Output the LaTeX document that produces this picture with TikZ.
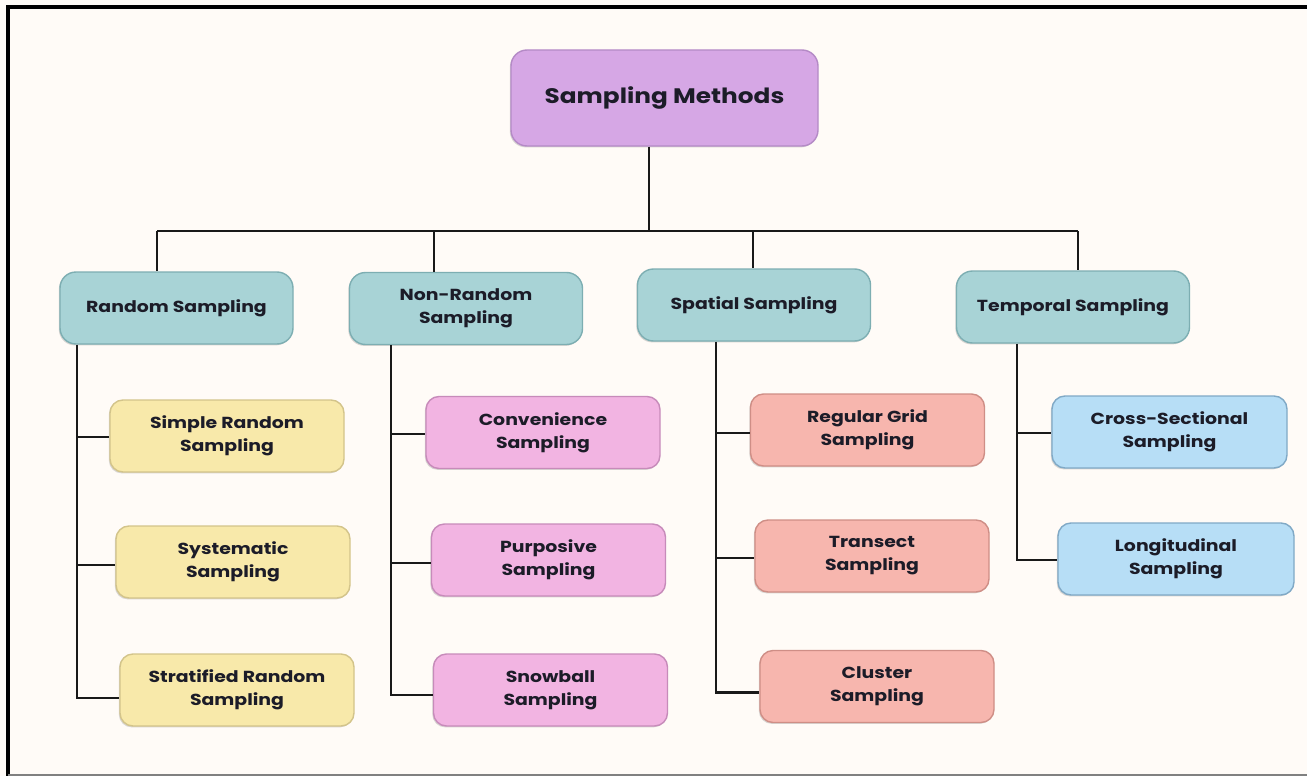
\documentclass[tikz,border=0pt]{standalone}
\usepackage{fontspec}
\setmainfont{Poppins}[FakeStretch=1.18]
\usetikzlibrary{shadows}
\definecolor{pagebg}{HTML}{FFFBF7}
\definecolor{txt}{HTML}{1C1C28}
\definecolor{rootfill}{HTML}{D6A7E5}\definecolor{rootline}{HTML}{B48AC6}
\definecolor{catfill}{HTML}{A8D3D6}\definecolor{catline}{HTML}{7DAEB2}
\definecolor{yelfill}{HTML}{F8E9AA}\definecolor{yelline}{HTML}{D3C48A}
\definecolor{pinkfill}{HTML}{F2B4E2}\definecolor{pinkline}{HTML}{C78BBA}
\definecolor{salfill}{HTML}{F7B6AE}\definecolor{salline}{HTML}{CF8E86}
\definecolor{bluefill}{HTML}{B7DEF6}\definecolor{blueline}{HTML}{80A9C6}
\tikzset{
  box/.style={rectangle, rounded corners=13pt, line width=1.4pt, align=center,
    text=txt, font=\bfseries, inner sep=0pt,
    drop shadow={shadow xshift=-1.2pt, shadow yshift=-1.4pt, opacity=.25, fill=black!60}},
  rootbox/.style={box, fill=rootfill, draw=rootline, minimum width=307pt, minimum height=96pt,
    rounded corners=16pt, font=\fontsize{21}{25}\selectfont\bfseries},
  catbox/.style={box, fill=catfill, draw=catline, minimum width=233pt, minimum height=72pt,
    rounded corners=16pt, font=\fontsize{16}{23}\selectfont\bfseries},
  leaf/.style={box, minimum width=234pt, minimum height=72pt,
    font=\fontsize{16}{23}\selectfont\bfseries},
  yel/.style={leaf, fill=yelfill, draw=yelline},
  pnk/.style={leaf, fill=pinkfill, draw=pinkline},
  sal/.style={leaf, fill=salfill, draw=salline},
  blu/.style={leaf, fill=bluefill, draw=blueline},
  link/.style={line width=2.4pt, draw=black!90},
}
\begin{document}
\begin{tikzpicture}[x=1pt, y=-1pt]
  % page and frame
  \fill[pagebg] (0,0) rectangle (1307,776);
  \useasboundingbox (0,0) rectangle (1307,776);
  \draw[line width=4pt] (8,776) -- (8,7) -- (1307,7);
  \draw[line width=1.6pt, gray] (8,775.2) -- (1307,775.2);

  % root and categories
  \node[rootbox] (root) at (664.5,98) {Sampling Methods};
  \node[catbox] (rnd) at (176.5,308) {Random Sampling};
  \node[catbox] (nrd) at (466,308.5) {Non-Random\\Sampling};
  \node[catbox] (spa) at (754,305) {Spatial Sampling};
  \node[catbox] (tmp) at (1073,307) {Temporal Sampling};

  % leaves
  \node[yel] (l11) at (227,436) {Simple Random\\Sampling};
  \node[yel] (l12) at (233,562) {Systematic\\Sampling};
  \node[yel] (l13) at (237,690) {Stratified Random\\Sampling};
  \node[pnk] (l21) at (543,432.5) {Convenience\\Sampling};
  \node[pnk] (l22) at (548.5,560) {Purposive\\Sampling};
  \node[pnk] (l23) at (550.5,690) {Snowball\\Sampling};
  \node[sal] (l31) at (867.5,430) {Regular Grid\\Sampling};
  \node[sal] (l32) at (872,556) {Transect\\Sampling};
  \node[sal] (l33) at (877,686.5) {Cluster\\Sampling};
  \node[blu, minimum width=235pt] (l41) at (1169.5,432) {Cross-Sectional\\Sampling};
  \node[blu, minimum width=236pt] (l42) at (1176,559) {Longitudinal\\Sampling};

  % bus junctions
  \coordinate (j0) at (649,231);
  \coordinate (j1) at (157,231);
  \coordinate (j2) at (434,231);
  \coordinate (j3) at (753,231);
  \coordinate (j4) at (1078,231);
  \draw[link] (root.south -| j0) -- (j0);
  \draw[link] (j1) -- (j4);
  \draw[link] (j1) -- (rnd.north -| j1);
  \draw[link] (j2) -- (nrd.north -| j2);
  \draw[link] (j3) -- (spa.north -| j3);
  \draw[link] (j4) -- (tmp.north -| j4);

  % spines
  \coordinate (s1) at (77,0);
  \coordinate (s2) at (391,0);
  \coordinate (s3) at (716,0);
  \coordinate (s4) at (1017,0);

  \draw[link] (rnd.south -| s1) -- ([yshift=-8pt]l13.west -| s1) -- ([yshift=-8pt]l13.west);
  \draw[link] ([yshift=-1pt]l11.west -| s1) -- ([yshift=-1pt]l11.west);
  \draw[link] ([yshift=-3pt]l12.west -| s1) -- ([yshift=-3pt]l12.west);

  \draw[link] (nrd.south -| s2) -- ([yshift=-5pt]l23.west -| s2) -- ([yshift=-5pt]l23.west);
  \draw[link] ([yshift=-1.5pt]l21.west -| s2) -- ([yshift=-1.5pt]l21.west);
  \draw[link] ([yshift=-3pt]l22.west -| s2) -- ([yshift=-3pt]l22.west);

  \draw[link] (spa.south -| s3) -- ([yshift=-6pt]l33.west -| s3) -- ([yshift=-6pt]l33.west);
  \draw[link] ([yshift=-3pt]l31.west -| s3) -- ([yshift=-3pt]l31.west);
  \draw[link] ([yshift=-2pt]l32.west -| s3) -- ([yshift=-2pt]l32.west);

  \draw[link] (tmp.south -| s4) -- ([yshift=-1pt]l42.west -| s4) -- ([yshift=-1pt]l42.west);
  \draw[link] ([yshift=-1pt]l41.west -| s4) -- ([yshift=-1pt]l41.west);
\end{tikzpicture}
\end{document}
